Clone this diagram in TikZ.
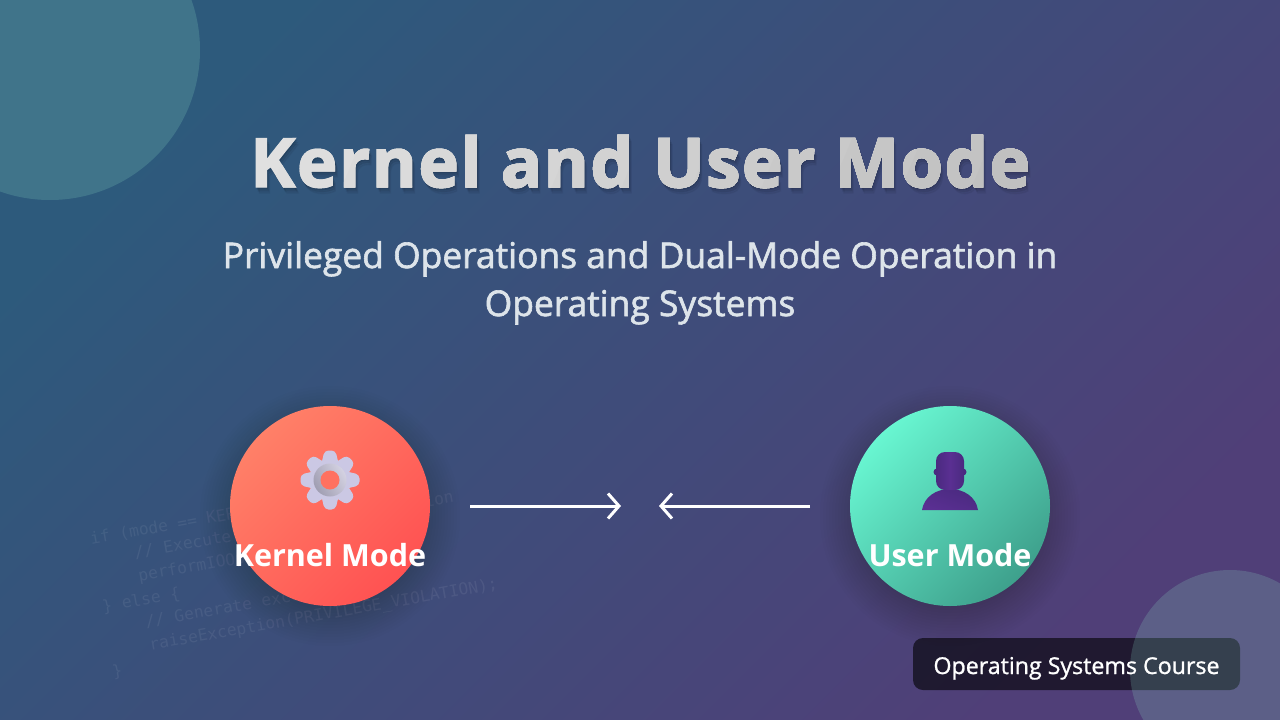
\documentclass[tikz,border=0pt]{standalone}
\usepackage{fontspec}
\setmainfont{Open Sans}
\setmonofont{DejaVu Sans Mono}
\newfontfamily\titlefont[BoldFeatures={FakeBold=2,LetterSpace=2.8}]{Open Sans}
\newfontfamily\subfont[FakeBold=1.7]{Open Sans}
\newfontfamily\badgefont[FakeBold=1.1]{Open Sans}
\usetikzlibrary{arrows.meta}

\definecolor{bgstart}{HTML}{2D5A7C}
\definecolor{bgend}{HTML}{503F78}
\definecolor{blobcol}{HTML}{8DE0C6}
\definecolor{gearbody}{HTML}{CBC8E4}
\definecolor{personcol}{HTML}{5A2F92}
\definecolor{persondark}{HTML}{4A2A80}

\begin{document}
\begin{tikzpicture}[x=1pt,y=-1pt]
\tikzset{
	titletext/.style={anchor=base,font=\titlefont\bfseries\fontsize{68}{70}\selectfont},
	badgetext/.style={anchor=base,text=white,font=\badgefont\fontsize{23.2}{26}\selectfont},
	modetext/.style={anchor=base,text=white,font=\bfseries\fontsize{30.5}{30}\selectfont},
	subtext/.style={anchor=base,text=white!84!bgstart,font=\subfont\fontsize{35.4}{48}\selectfont},
	codetext/.style={text=white,text opacity=0.07,rotate=10,anchor=base west,font=\ttfamily\fontsize{16.3}{20}\selectfont},
	flowarrow/.style={white,line width=3pt,-{Straight Barb[length=11pt,width=25pt,line width=3pt]}}
}
\useasboundingbox (0,0) rectangle (1280,720);

%--------------------fond---------------------
\shade[top color=bgstart,bottom color=bgend,shading angle=45] (0,0) rectangle (1280,720);
\fill[blobcol,opacity=0.2] (50,50) circle (150);

%code en filigrane
\node[codetext] (code1) at (88,545) {if (mode == KERNEL\_MODE) \{};
\node[codetext] (code2) at (132,559) {// Execute privileged instruction};
\node[codetext] (code3) at (136,582) {performIOOperation();};
\node[codetext] (code4) at (100,613) {\} else \{};
\node[codetext] (code5) at (143,628) {// Generate exception};
\node[codetext] (code6) at (147,651) {raiseException(PRIVILEGE\_VIOLATION);};
\node[codetext] (code7) at (110,678) {\}};

%--------------------titre---------------------
\foreach \shiftd/\shadeop in {6/0.04,4/0.06,2/0.08}
	\node[titletext,text=black,text opacity=\shadeop] (titleshadow\shiftd) at (640+\shiftd*0.5,187+\shiftd) {Kernel and User Mode};
\foreach \bandi in {0,1,...,11}{
	\pgfmathsetmacro{\bandx}{230+\bandi*70}
	\pgfmathsetmacro{\bandgray}{12+\bandi*1.15}
	\begin{scope}
		\clip (\bandx,120) -- (1100,120) -- (1100,215) -- (\bandx-40,215) -- cycle;
		\node[titletext,text=black!\bandgray] (titleband\bandi) at (640,187) {Kernel and User Mode};
	\end{scope}
}

\node[subtext] (sub1) at (640,268) {Privileged Operations and Dual-Mode Operation in};
\node[subtext] (sub2) at (640,316) {Operating Systems};

%--------------------cercles---------------------
\foreach \shadowr in {130,127,...,70}{
	\fill[black,opacity=0.011] (330,516) circle (\shadowr);
	\fill[black,opacity=0.011] (950,516) circle (\shadowr);
}
\shade[top color={rgb,255:red,255;green,128;blue,104},bottom color={rgb,255:red,255;green,82;blue,82},shading angle=45] (330,506) circle (100);
\shade[top color={rgb,255:red,104;green,246;blue,209},bottom color={rgb,255:red,62;green,160;blue,140},shading angle=45] (950,506) circle (100);

%engrenage
\foreach \toothang in {0,45,...,315}
	\fill[gearbody,rounded corners=4pt,rotate around={\toothang:(330,480)}] (324.5,450.5) -- (335.5,450.5) -- (340,470) -- (320,470) -- cycle;
\fill[gearbody] (330,480) circle (20);
\shade[left color={rgb,255:red,160;green,158;blue,178},right color={rgb,255:red,212;green,210;blue,226},shading angle=120] (330,480) circle (16.5);
\fill[fill={rgb,255:red,255;green,113;blue,96}] (330,480) circle (9.5);

%personnage
\fill[persondark] (937,472) circle (3.5) (963,472) circle (3.5);
\shade[left color=persondark,right color=personcol,shading angle=-20] (922,510) .. controls (924,497) and (936,489) .. (950,489) .. controls (964,489) and (976,497) .. (978,510) -- cycle;
\shade[left color=persondark,right color=persondark,middle color=personcol,rounded corners=9pt] (936,452) rectangle (964,490);

\node[modetext] (kernel) at (330,566) {Kernel Mode};
\node[modetext] (user) at (950,566) {User Mode};

%--------------------fleches---------------------
\coordinate (kernelout) at (470,506);
\coordinate (kernelin) at (621,506);
\coordinate (userout) at (810,506);
\coordinate (userin) at (659,506);
\draw[flowarrow] (kernelout) -- (kernelin);
\draw[flowarrow] (userout) -- (userin);

%--------------------badge---------------------
\fill[black,opacity=0.6,rounded corners=10pt] (913,638) rectangle (1240,690);
\fill[blobcol,opacity=0.2] (1230,670) circle (100);
\node[badgetext] (course) at (1076.5,674) {Operating Systems Course};
\end{tikzpicture}
\end{document}
